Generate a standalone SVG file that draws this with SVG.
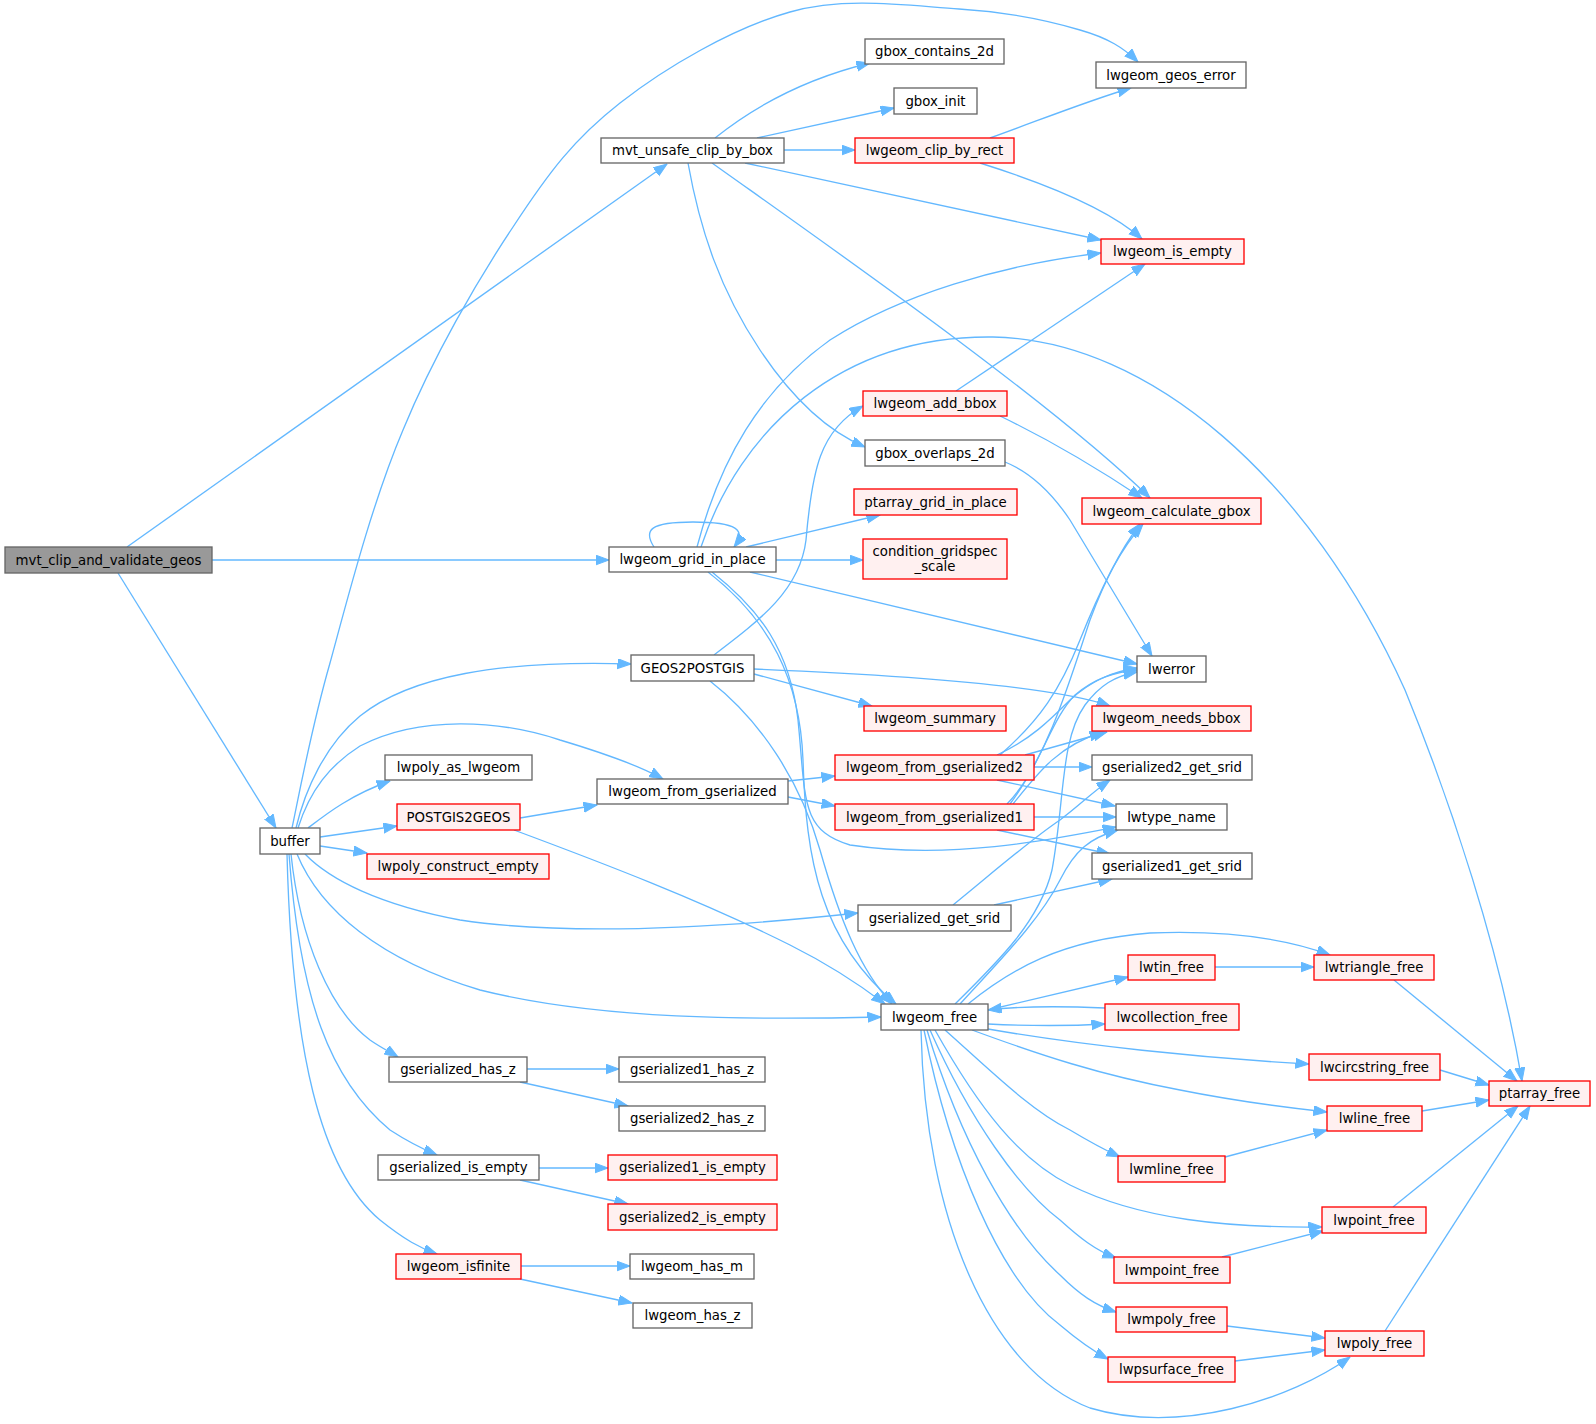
<svg xmlns="http://www.w3.org/2000/svg" width="1596" height="1424" viewBox="0 0 1596 1424">
<style>
rect{stroke-width:1.33}
.w rect{fill:#ffffff;stroke:#666666}
.r rect{fill:#fff0f0;stroke:#ff0000}
.g rect{fill:#999999;stroke:#666666}
text{font-family:"DejaVu Sans","Liberation Sans",sans-serif;font-size:13.3px;text-anchor:middle;fill:#000}
#edges path{fill:none;stroke:#63b8ff;stroke-width:1.33;marker-end:url(#a)}
</style>
<defs>
<marker id="a" markerUnits="userSpaceOnUse" markerWidth="14" markerHeight="11" refX="13.5" refY="5" orient="auto">
<path d="M0,0 L13.5,5 L0,10 z" fill="#63b8ff" stroke="#63b8ff" stroke-width="1"/>
</marker>
</defs>
<rect width="1596" height="1424" fill="#ffffff"/>
<g id="edges">
<path d="M127,547 L667,164"/>
<path d="M212,560 L609,560"/>
<path d="M118,573 L276,828"/>
<path d="M292,828 C298,800 311,729 330,663 C348,597 372,503 403,430 C433,357 477,281 513,227 C549,172 574,139 620,103 C666,67 733,28 790,12 C846,-4 911,6 959,9 C1007,12 1050,21 1080,30 C1108,38 1124,48 1138,62"/>
<path d="M296,828 C305,790 325,745 360,716 C410,676 500,660 631,664"/>
<path d="M298,828 C310,790 330,765 360,746 C420,715 500,720 560,740 C600,752 640,766 663,779"/>
<path d="M308,828 C325,815 350,795 390,781"/>
<path d="M320,837 L397,826"/>
<path d="M320,846 L367,853"/>
<path d="M305,854 C330,880 380,905 460,920 C560,935 700,930 858,913"/>
<path d="M297,854 C320,910 380,960 480,990 C600,1020 750,1020 881,1017"/>
<path d="M291,854 C300,940 330,1010 370,1040 C380,1047 390,1052 398,1057"/>
<path d="M289,854 C300,1000 330,1080 390,1130 C410,1143 425,1150 437,1155"/>
<path d="M287,854 C292,1050 320,1170 380,1220 C405,1240 420,1248 437,1254"/>
<path d="M715,138 C750,110 800,80 870,63"/>
<path d="M757,138 L894,108"/>
<path d="M784,150 L855,150"/>
<path d="M745,163 L1101,240"/>
<path d="M712,163 C820,240 1050,400 1150,498"/>
<path d="M688,163 C700,230 720,290 760,350 C790,395 825,430 865,447"/>
<path d="M990,138 C1040,120 1090,100 1131,88"/>
<path d="M980,163 C1050,185 1110,210 1142,239"/>
<path d="M956,391 L1145,264"/>
<path d="M1000,416 C1050,440 1100,470 1142,498"/>
<path d="M1005,462 C1030,472 1050,490 1070,520 C1100,570 1130,620 1152,656"/>
<path d="M654,547 C643,530 650,522 693,522 C737,522 747,530 734,547"/>
<path d="M697,547 C720,460 760,390 830,340 C900,295 1000,265 1101,253"/>
<path d="M701,547 C740,430 840,335 993,337 C1150,340 1310,480 1405,690 C1450,800 1500,950 1522,1081"/>
<path d="M746,547 L880,515"/>
<path d="M776,560 L863,560"/>
<path d="M750,572 L1137,664"/>
<path d="M712,572 C760,610 790,650 798,720 C806,800 800,830 850,845 C950,860 1050,840 1116,827"/>
<path d="M708,572 C770,620 800,680 803,760 C806,860 820,940 896,1004"/>
<path d="M714,655 C760,620 800,590 806,540 C812,470 820,430 863,406"/>
<path d="M754,674 L872,706"/>
<path d="M754,669 C900,675 1050,685 1110,706"/>
<path d="M710,681 C760,720 800,780 820,850 C840,920 860,970 892,1004"/>
<path d="M520,818 L597,805"/>
<path d="M514,830 C600,862 700,900 790,945 C830,965 860,985 885,1004"/>
<path d="M788,781 L835,776"/>
<path d="M788,797 L835,806"/>
<path d="M997,755 C1030,740 1050,720 1070,700 C1090,682 1110,672 1137,668"/>
<path d="M1025,755 L1107,732"/>
<path d="M1034,767 L1092,767"/>
<path d="M997,780 L1115,806"/>
<path d="M1000,755 C1040,720 1060,690 1080,640 C1100,590 1120,550 1140,524"/>
<path d="M1007,804 C1040,770 1050,720 1075,695 C1095,678 1115,672 1137,670"/>
<path d="M1013,804 C1040,770 1060,745 1103,732"/>
<path d="M1010,804 C1050,750 1070,680 1090,620 C1105,580 1120,550 1143,524"/>
<path d="M1034,817 L1116,817"/>
<path d="M997,830 L1110,854"/>
<path d="M953,905 C990,875 1030,840 1060,820 C1080,805 1095,790 1110,780"/>
<path d="M994,905 L1112,879"/>
<path d="M955,1004 C1000,960 1040,920 1052,870 C1065,800 1060,740 1085,705 C1100,685 1115,676 1137,672"/>
<path d="M960,1004 C1000,960 1040,920 1060,880 C1075,850 1090,838 1118,830"/>
<path d="M968,1004 C1010,970 1060,940 1150,933 C1230,930 1290,940 1330,955"/>
<path d="M988,1010 L1128,977"/>
<path d="M1105,1008 C1060,1006 1020,1006 988,1010"/>
<path d="M988,1024 C1030,1026 1070,1026 1105,1024"/>
<path d="M988,1029 C1080,1045 1200,1058 1309,1064"/>
<path d="M972,1030 C1040,1055 1100,1075 1180,1090 C1240,1102 1290,1108 1327,1112"/>
<path d="M945,1030 C990,1070 1030,1110 1070,1130 C1090,1142 1105,1150 1120,1157"/>
<path d="M935,1030 C980,1110 1020,1160 1070,1185 C1140,1220 1230,1228 1322,1227"/>
<path d="M930,1030 C970,1120 1020,1190 1060,1220 C1080,1238 1095,1250 1116,1258"/>
<path d="M927,1030 C960,1140 1010,1230 1060,1275 C1080,1295 1095,1305 1116,1312"/>
<path d="M924,1030 C950,1160 1000,1280 1060,1325 C1080,1342 1095,1352 1108,1359"/>
<path d="M921,1030 C925,1220 990,1370 1090,1408 C1180,1435 1290,1400 1350,1357"/>
<path d="M1215,967 L1314,967"/>
<path d="M1394,980 L1517,1081"/>
<path d="M1440,1070 L1489,1085"/>
<path d="M1422,1111 L1489,1100"/>
<path d="M1393,1207 L1518,1106"/>
<path d="M1385,1331 L1530,1106"/>
<path d="M1225,1157 L1327,1130"/>
<path d="M1222,1257 L1323,1231"/>
<path d="M1227,1326 L1325,1338"/>
<path d="M1235,1361 L1325,1350"/>
<path d="M527,1069 L619,1069"/>
<path d="M520,1082 L628,1106"/>
<path d="M539,1168 L608,1168"/>
<path d="M520,1180 L628,1204"/>
<path d="M521,1266 L630,1266"/>
<path d="M520,1279 L632,1303"/>
</g>
<g id="n_root" class="g"><rect x="5" y="547" width="207" height="26"/><text x="108.5" y="564.5">mvt_clip_and_validate_geos</text></g>
<g id="n_buffer" class="w"><rect x="260" y="828" width="60" height="26"/><text x="290" y="845.5">buffer</text></g>
<g id="n_mvt_unsafe_clip_by_box" class="w"><rect x="601" y="138" width="183" height="25"/><text x="692.5" y="155">mvt_unsafe_clip_by_box</text></g>
<g id="n_lwgeom_grid_in_place" class="w"><rect x="609" y="547" width="167" height="25"/><text x="692.5" y="564">lwgeom_grid_in_place</text></g>
<g id="n_GEOS2POSTGIS" class="w"><rect x="631" y="655" width="123" height="26"/><text x="692.5" y="672.5">GEOS2POSTGIS</text></g>
<g id="n_lwpoly_as_lwgeom" class="w"><rect x="385" y="755" width="147" height="25"/><text x="458.5" y="772">lwpoly_as_lwgeom</text></g>
<g id="n_lwgeom_from_gserialized" class="w"><rect x="597" y="779" width="191" height="25"/><text x="692.5" y="796">lwgeom_from_gserialized</text></g>
<g id="n_POSTGIS2GEOS" class="r"><rect x="397" y="804" width="123" height="26"/><text x="458.5" y="821.5">POSTGIS2GEOS</text></g>
<g id="n_lwpoly_construct_empty" class="r"><rect x="367" y="854" width="182" height="25"/><text x="458" y="871">lwpoly_construct_empty</text></g>
<g id="n_gserialized_has_z" class="w"><rect x="389" y="1057" width="138" height="25"/><text x="458" y="1074">gserialized_has_z</text></g>
<g id="n_gserialized_is_empty" class="w"><rect x="378" y="1155" width="161" height="25"/><text x="458.5" y="1172">gserialized_is_empty</text></g>
<g id="n_lwgeom_isfinite" class="r"><rect x="396" y="1254" width="125" height="25"/><text x="458.5" y="1271">lwgeom_isfinite</text></g>
<g id="n_gserialized1_has_z" class="w"><rect x="619" y="1057" width="146" height="25"/><text x="692" y="1074">gserialized1_has_z</text></g>
<g id="n_gserialized2_has_z" class="w"><rect x="619" y="1106" width="146" height="25"/><text x="692" y="1123">gserialized2_has_z</text></g>
<g id="n_gserialized1_is_empty" class="r"><rect x="608" y="1155" width="169" height="25"/><text x="692.5" y="1172">gserialized1_is_empty</text></g>
<g id="n_gserialized2_is_empty" class="r"><rect x="608" y="1204" width="169" height="26"/><text x="692.5" y="1221.5">gserialized2_is_empty</text></g>
<g id="n_lwgeom_has_m" class="w"><rect x="630" y="1254" width="124" height="25"/><text x="692" y="1271">lwgeom_has_m</text></g>
<g id="n_lwgeom_has_z" class="w"><rect x="633" y="1303" width="119" height="25"/><text x="692.5" y="1320">lwgeom_has_z</text></g>
<g id="n_gbox_contains_2d" class="w"><rect x="865" y="39" width="139" height="25"/><text x="934.5" y="56">gbox_contains_2d</text></g>
<g id="n_gbox_init" class="w"><rect x="894" y="88" width="83" height="26"/><text x="935.5" y="105.5">gbox_init</text></g>
<g id="n_lwgeom_clip_by_rect" class="r"><rect x="855" y="138" width="159" height="25"/><text x="934.5" y="155">lwgeom_clip_by_rect</text></g>
<g id="n_lwgeom_geos_error" class="w"><rect x="1096" y="62" width="150" height="26"/><text x="1171" y="79.5">lwgeom_geos_error</text></g>
<g id="n_lwgeom_add_bbox" class="r"><rect x="863" y="391" width="144" height="25"/><text x="935" y="408">lwgeom_add_bbox</text></g>
<g id="n_gbox_overlaps_2d" class="w"><rect x="865" y="440" width="140" height="26"/><text x="935" y="457.5">gbox_overlaps_2d</text></g>
<g id="n_ptarray_grid_in_place" class="r"><rect x="854" y="489" width="163" height="26"/><text x="935.5" y="506.5">ptarray_grid_in_place</text></g>
<g id="n_condition_gridspec_scale" class="r"><rect x="863" y="539" width="144" height="40"/><text x="935" y="556">condition_gridspec</text><text x="935" y="571">_scale</text></g>
<g id="n_lwgeom_summary" class="r"><rect x="864" y="706" width="142" height="25"/><text x="935" y="723">lwgeom_summary</text></g>
<g id="n_lwgeom_from_gserialized2" class="r"><rect x="835" y="755" width="199" height="25"/><text x="934.5" y="772">lwgeom_from_gserialized2</text></g>
<g id="n_lwgeom_from_gserialized1" class="r"><rect x="835" y="804" width="199" height="26"/><text x="934.5" y="821.5">lwgeom_from_gserialized1</text></g>
<g id="n_gserialized_get_srid" class="w"><rect x="858" y="905" width="153" height="26"/><text x="934.5" y="922.5">gserialized_get_srid</text></g>
<g id="n_lwgeom_free" class="w"><rect x="881" y="1004" width="107" height="26"/><text x="934.5" y="1021.5">lwgeom_free</text></g>
<g id="n_lwgeom_is_empty" class="r"><rect x="1101" y="239" width="143" height="25"/><text x="1172.5" y="256">lwgeom_is_empty</text></g>
<g id="n_lwgeom_calculate_gbox" class="r"><rect x="1082" y="498" width="179" height="26"/><text x="1171.5" y="515.5">lwgeom_calculate_gbox</text></g>
<g id="n_lwerror" class="w"><rect x="1137" y="656" width="69" height="26"/><text x="1171.5" y="673.5">lwerror</text></g>
<g id="n_lwgeom_needs_bbox" class="r"><rect x="1092" y="706" width="159" height="25"/><text x="1171.5" y="723">lwgeom_needs_bbox</text></g>
<g id="n_gserialized2_get_srid" class="w"><rect x="1092" y="755" width="160" height="25"/><text x="1172" y="772">gserialized2_get_srid</text></g>
<g id="n_lwtype_name" class="w"><rect x="1116" y="804" width="111" height="26"/><text x="1171.5" y="821.5">lwtype_name</text></g>
<g id="n_gserialized1_get_srid" class="w"><rect x="1092" y="853" width="160" height="26"/><text x="1172" y="870.5">gserialized1_get_srid</text></g>
<g id="n_lwtin_free" class="r"><rect x="1128" y="955" width="87" height="25"/><text x="1171.5" y="972">lwtin_free</text></g>
<g id="n_lwcollection_free" class="r"><rect x="1105" y="1004" width="134" height="26"/><text x="1172" y="1021.5">lwcollection_free</text></g>
<g id="n_lwmline_free" class="r"><rect x="1118" y="1156" width="107" height="26"/><text x="1171.5" y="1173.5">lwmline_free</text></g>
<g id="n_lwmpoint_free" class="r"><rect x="1114" y="1257" width="116" height="26"/><text x="1172" y="1274.5">lwmpoint_free</text></g>
<g id="n_lwmpoly_free" class="r"><rect x="1116" y="1307" width="111" height="25"/><text x="1171.5" y="1324">lwmpoly_free</text></g>
<g id="n_lwpsurface_free" class="r"><rect x="1108" y="1357" width="127" height="25"/><text x="1171.5" y="1374">lwpsurface_free</text></g>
<g id="n_lwtriangle_free" class="r"><rect x="1314" y="955" width="120" height="25"/><text x="1374" y="972">lwtriangle_free</text></g>
<g id="n_lwcircstring_free" class="r"><rect x="1309" y="1054" width="131" height="26"/><text x="1374.5" y="1071.5">lwcircstring_free</text></g>
<g id="n_lwline_free" class="r"><rect x="1327" y="1106" width="95" height="25"/><text x="1374.5" y="1123">lwline_free</text></g>
<g id="n_lwpoint_free" class="r"><rect x="1322" y="1207" width="104" height="26"/><text x="1374" y="1224.5">lwpoint_free</text></g>
<g id="n_lwpoly_free" class="r"><rect x="1325" y="1331" width="99" height="25"/><text x="1374.5" y="1348">lwpoly_free</text></g>
<g id="n_ptarray_free" class="r"><rect x="1489" y="1081" width="101" height="25"/><text x="1539.5" y="1098">ptarray_free</text></g>
</svg>
